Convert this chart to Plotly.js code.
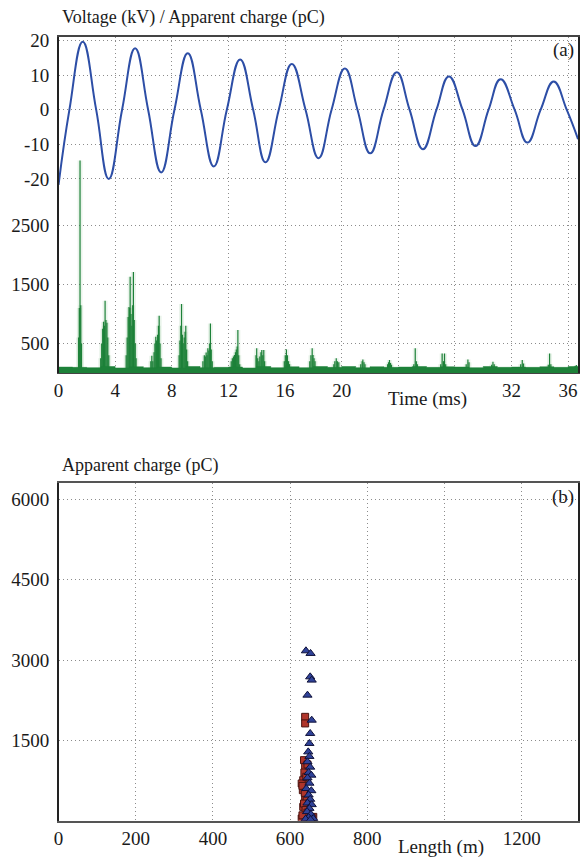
<!DOCTYPE html>
<html>
<head>
<meta charset="utf-8">
<script src="https://cdn.plot.ly/plotly-3.0.1.min.js"></script>
<style>html,body{margin:0;padding:0;background:#fff;}#chart{width:580px;height:859px;}</style>
</head>
<body>
<div id="chart"></div>
<script>
// ---------- (a) Voltage waveform (peaks, troughs, zero crossings) ----------
var vTime = [0.0, 0.77, 1.71, 2.66, 3.55, 4.49, 5.41, 6.33, 7.25, 8.19, 9.13, 10.05, 10.97, 11.89, 12.83, 13.75, 14.62, 15.56, 16.48, 17.45, 18.37, 19.29, 20.23, 21.12, 22.02, 22.96, 23.9, 24.8, 25.74, 26.7, 27.58, 28.54, 29.46, 30.38, 31.23, 32.22, 33.12, 34.06, 34.98, 35.9, 36.7];
var vVolt = [-21.7, 0, 19.6, 0, -20.0, 0, 17.7, 0, -18.1, 0, 16.3, 0, -16.4, 0, 14.5, 0, -15.2, 0, 13.2, 0, -14.0, 0, 11.9, 0, -12.6, 0, 10.8, 0, -11.4, 0, 9.6, 0, -10.5, 0, 8.8, 0, -9.5, 0, 8.1, 0, -8.5];

// ---------- (a) Apparent charge pulses (ms, pC) ----------
var pdTime = [1.42, 1.47, 1.52, 1.57, 1.62,
  2.98, 3.05, 3.12, 3.18, 3.24, 3.29, 3.35, 3.42, 3.48, 3.55,
  4.78, 4.85, 4.92, 4.98, 5.03, 5.06, 5.12, 5.18, 5.24, 5.29, 5.35, 5.42, 5.48,
  6.52, 6.59, 6.66, 6.75, 6.81, 6.87, 6.93, 7.0, 7.06, 7.11, 7.17, 7.24,
  8.52, 8.58, 8.64, 8.69, 8.75, 8.81, 8.88, 8.94, 8.99, 9.05, 9.12,
  10.2, 10.3, 10.37, 10.43, 10.49, 10.55, 10.62, 10.68, 10.73, 10.79, 10.86,
  12.2, 12.28, 12.36, 12.43, 12.5, 12.56, 12.62, 12.67, 12.73, 12.8,
  13.95, 14.0, 14.07, 14.15, 14.22, 14.3, 14.36, 14.43, 14.5, 14.56,
  15.95, 16.02, 16.1, 16.17, 16.25, 16.32,
  17.75, 17.83, 17.92, 17.98, 18.05, 18.12,
  19.45, 19.52, 19.62, 19.7, 19.8,
  21.35, 21.45, 21.5, 21.58, 21.65,
  23.25, 23.32, 23.38, 23.45, 23.52,
  25.1, 25.2, 25.28, 25.35,
  27.0, 27.1, 27.2, 27.27, 27.35,
  28.8, 28.92, 29.0,
  30.6, 30.69, 30.78,
  32.65, 32.76, 32.85,
  34.6, 34.69, 34.78,
  36.5, 36.58];
var pdCharge = [600, 1100, 3600, 1150, 500,
  250, 500, 750, 870, 800, 1225, 900, 850, 600, 300,
  300, 600, 950, 1120, 1100, 1630, 1000, 800, 1150, 1710, 900, 500, 250,
  200, 290, 200, 350, 500, 615, 550, 650, 800, 970, 500, 250,
  300, 550, 800, 1170, 650, 500, 600, 700, 800, 400, 200,
  200, 300, 280, 345, 300, 420, 380, 500, 840, 400, 200,
  200, 250, 280, 305, 350, 400, 450, 730, 300, 150,
  300, 420, 250, 200, 280, 350, 390, 300, 390, 200,
  200, 300, 400, 300, 200, 150,
  200, 300, 420, 305, 250, 200,
  150, 200, 250, 200, 180,
  150, 200, 230, 180, 150,
  150, 180, 220, 170, 140,
  150, 420, 200, 150,
  150, 330, 200, 330, 150,
  150, 230, 180,
  140, 190, 150,
  150, 220, 160,
  140, 330, 150,
  120, 136];

// background noise level of the charge record
var baseTime = [0, 1, 2, 3, 4, 5, 6, 7, 8, 9, 10, 11, 12, 13, 14, 15, 16, 17, 18, 19, 20, 21, 22, 23, 24, 25, 26, 27, 28, 29, 30, 31, 32, 33, 34, 35, 36, 36.7];
var baseCharge = [100, 95, 90, 110, 85, 105, 90, 100, 85, 110, 90, 95, 100, 85, 110, 90, 105, 90, 110, 95, 110, 90, 105, 95, 100, 110, 95, 105, 100, 90, 110, 95, 100, 95, 105, 95, 110, 100];

// ---------- (b) Apparent charge vs. length ----------
var triLength = [641, 653, 652, 656, 645, 656, 652, 650, 647, 650, 645, 652, 648, 655, 645, 650, 642, 655, 648, 652, 645, 656, 650, 644, 654, 648, 660, 640, 653];
var triCharge = [3172, 3123, 2686, 2625, 2344, 1877, 1629, 1442, 1285, 1200, 1100, 1000, 900, 850, 800, 700, 600, 560, 480, 400, 330, 300, 230, 170, 120, 60, 40, 30, 20];
var sqLength = [639, 639, 636, 639, 634, 630, 633, 639, 634, 641, 660, 630, 645, 637, 642, 632, 638, 643, 636, 640, 645, 632, 650, 655];
var sqCharge = [1939, 1816, 1130, 1005, 757, 695, 570, 445, 258, 71, 71, 41, 1050, 900, 820, 650, 520, 380, 320, 200, 150, 100, 30, 60];

// ---------- tick labels ----------
var tTickVals = [0, 4, 8, 12, 16, 20, 24, 28, 32, 36];
var tTickText = ['0', '4', '8', '12', '16', '20', '', '', '32', '36'];
var vTickVals = [-20, -10, 0, 10, 20];
var vTickText = ['-20', '-10', '0', '10', '20'];
var qTickVals = [500, 1500, 2500];
var lenTickVals = [0, 200, 400, 600, 800, 1000, 1200];
var lenTickText = ['0', '200', '400', '600', '800', '', '1200'];
var q2TickVals = [1500, 3000, 4500, 6000];

var FONT = 'Liberation Serif, Times New Roman, serif';
var GREEN = '#1d8139';

var traces = [
  {type: 'bar', x: pdTime, y: pdCharge, xaxis: 'x', yaxis: 'y', width: 0.35,
   marker: {color: 'rgba(90,170,100,0.13)', line: {width: 0}}, hoverinfo: 'skip', showlegend: false},
  {type: 'scatter', mode: 'lines', x: baseTime, y: baseCharge, xaxis: 'x', yaxis: 'y',
   fill: 'tozeroy', fillcolor: GREEN, line: {color: GREEN, width: 0.5, shape: 'hv'}, showlegend: false},
  {type: 'bar', x: pdTime, y: pdCharge, xaxis: 'x', yaxis: 'y', width: 0.085,
   marker: {color: GREEN, line: {width: 0}}, showlegend: false},
  {type: 'scatter', mode: 'lines', x: vTime, y: vVolt, xaxis: 'x', yaxis: 'y2',
   line: {color: '#2d4ea6', width: 2, shape: 'spline', smoothing: 1.3}, showlegend: false},
  {type: 'scatter', mode: 'markers', x: sqLength, y: sqCharge, xaxis: 'x2', yaxis: 'y3',
   marker: {symbol: 'square', size: 7, color: '#b0352a', line: {color: '#4a1410', width: 1}}, showlegend: false},
  {type: 'scatter', mode: 'markers', x: triLength, y: triCharge, xaxis: 'x2', yaxis: 'y3',
   marker: {symbol: 'triangle-up', size: 8, color: '#2f4299', line: {color: '#10123a', width: 1}}, showlegend: false}
];

var gridCommon = {showgrid: true, gridcolor: '#8c8c8c', griddash: '1px,3px', gridwidth: 1, zeroline: false,
  ticks: '', showline: true, mirror: true, tickfont: {family: FONT, size: 19, color: '#1a1a1a'}, automargin: false};

var layout = {
  width: 580, height: 859,
  margin: {l: 0, r: 0, t: 0, b: 0},
  paper_bgcolor: '#ffffff', plot_bgcolor: '#ffffff',
  barmode: 'overlay',
  showlegend: false,
  xaxis: Object.assign({}, gridCommon, {domain: [0.1009, 0.9966], range: [0, 36.7], anchor: 'y',
    tickmode: 'array', tickvals: tTickVals, ticktext: tTickText, linecolor: '#444', linewidth: 1.5}),
  yaxis: Object.assign({}, gridCommon, {domain: [0.5658, 0.9573], range: [0, 5700], anchor: 'x',
    tickmode: 'array', tickvals: qTickVals, ticktext: ['500', '1500', '2500'], linecolor: '#222', linewidth: 1.5, ticklabelstandoff: 4}),
  yaxis2: Object.assign({}, gridCommon, {domain: [0.5658, 0.9573], range: [-76.0, 21.07], anchor: 'x', overlaying: 'y', side: 'left',
    tickmode: 'array', tickvals: vTickVals, ticktext: vTickText, linecolor: '#222', linewidth: 1.5, ticklabelstandoff: 4}),
  xaxis2: Object.assign({}, gridCommon, {domain: [0.1009, 0.9966], range: [0, 1346], anchor: 'y3',
    tickmode: 'array', tickvals: lenTickVals, ticktext: lenTickText, linecolor: '#555', linewidth: 2}),
  yaxis3: Object.assign({}, gridCommon, {domain: [0.0446, 0.4374], range: [0, 6300], anchor: 'x2',
    tickmode: 'array', tickvals: q2TickVals, ticktext: ['1500', '3000', '4500', '6000'], linecolor: '#222', linewidth: 1.5, ticklabelstandoff: 4}),
  annotations: [
    {text: 'Voltage (kV) / Apparent charge (pC)', xref: 'paper', yref: 'paper', x: 60 / 580, y: (859 - 18) / 859,
     xanchor: 'left', yanchor: 'middle', showarrow: false, font: {family: FONT, size: 18, color: '#1a1a1a'}},
    {text: '(a)', xref: 'paper', yref: 'paper', x: 576 / 580, y: (859 - 50) / 859,
     xanchor: 'right', yanchor: 'middle', showarrow: false, font: {family: FONT, size: 19, color: '#1a1a1a'}},
    {text: 'Time (ms)', xref: 'paper', yref: 'paper', x: 427 / 580, y: (859 - 399) / 859,
     xanchor: 'center', yanchor: 'middle', showarrow: false, font: {family: FONT, size: 19, color: '#1a1a1a'}},
    {text: 'Apparent charge (pC)', xref: 'paper', yref: 'paper', x: 60 / 580, y: (859 - 465) / 859,
     xanchor: 'left', yanchor: 'middle', showarrow: false, font: {family: FONT, size: 18, color: '#1a1a1a'}},
    {text: '(b)', xref: 'paper', yref: 'paper', x: 576 / 580, y: (859 - 497) / 859,
     xanchor: 'right', yanchor: 'middle', showarrow: false, font: {family: FONT, size: 19, color: '#1a1a1a'}},
    {text: 'Length (m)', xref: 'paper', yref: 'paper', x: 441 / 580, y: (859 - 847) / 859,
     xanchor: 'center', yanchor: 'middle', showarrow: false, font: {family: FONT, size: 19, color: '#1a1a1a'}}
  ]
};

Plotly.newPlot('chart', traces, layout, {displayModeBar: false, staticPlot: true});
</script>
</body>
</html>
